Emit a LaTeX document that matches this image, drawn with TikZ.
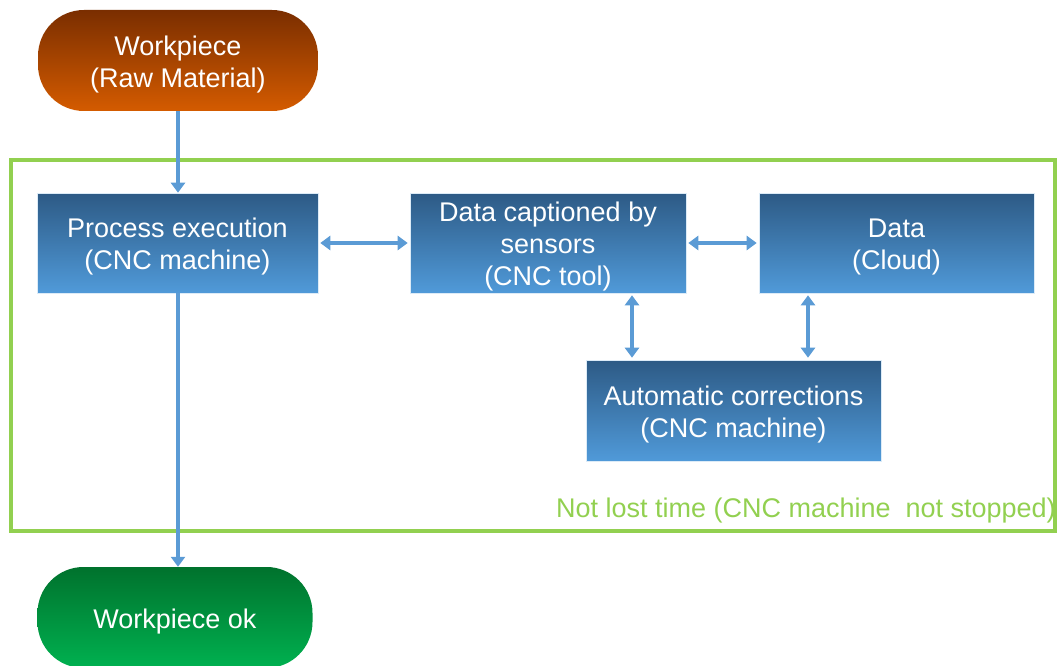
\documentclass[tikz,border=0pt]{standalone}
\usepackage{fontspec}
\setmainfont{Liberation Sans}
\usetikzlibrary{arrows.meta}

\definecolor{boxtop}{HTML}{2D5A85}
\definecolor{boxbot}{HTML}{509AD9}
\definecolor{rawtop}{HTML}{7A2E00}
\definecolor{rawbot}{HTML}{D45B00}
\definecolor{oktop}{HTML}{00722D}
\definecolor{okbot}{HTML}{00B150}
\definecolor{framegreen}{HTML}{92D050}
\definecolor{linkblue}{HTML}{5B9BD5}

% taller first line so the text block sits a little lower in its box
\newcommand\firststrut{\rule{0pt}{27pt}}

\begin{document}
\begin{tikzpicture}[x=1pt,y=-1pt,
  every node/.style={font=\fontsize{27}{32}\selectfont, text=white, align=center, inner sep=0pt},
  stepbox/.style={rectangle, top color=boxtop, bottom color=boxbot, draw=white!80!boxbot, line width=0.6pt},
  terminal/.style={rectangle, rounded corners=46pt, minimum height=101pt},
  flow/.style={draw=linkblue, line width=3.5pt, -{Triangle[length=10pt,width=14pt]}},
  twoway/.style={draw=linkblue, line width=3.5pt, {Triangle[length=10pt,width=14pt]}-{Triangle[length=10pt,width=14pt]}, shorten <=2pt, shorten >=2pt},
]
\useasboundingbox (0,0) rectangle (1057,666);
\clip (0,0) rectangle (1057,666);

% frame around the stages that run without stopping the machine
\draw[framegreen, line width=3.5pt] (11,160) rectangle (1055,531);
\node[text=framegreen, anchor=base east] (note) at (1056,517) {Not lost time (CNC machine\ \ not stopped)};

% terminals
\node[terminal, top color=rawtop, bottom color=rawbot, minimum width=280pt] (raw) at (178,60.5) {\firststrut Workpiece\\(Raw Material)};
\node[terminal, top color=oktop, bottom color=okbot, minimum width=275pt] (ok) at (175,617.5) {\firststrut Workpiece ok};

% process steps
\node[stepbox, minimum width=281pt, minimum height=100pt] (exec) at (177.5,243) {\firststrut Process execution\\(CNC machine)};
\node[stepbox, minimum width=276pt, minimum height=100pt] (sens) at (548,243) {\firststrut Data captioned by\\sensors\\(CNC tool)};
\node[stepbox, minimum width=275pt, minimum height=100pt] (cloud) at (896.5,243) {\firststrut Data\\(Cloud)};
\node[stepbox, minimum width=295pt, minimum height=101pt] (auto) at (733.5,410.5) {\firststrut Automatic corrections\\(CNC machine)};

% connectors
\draw[flow] (raw.south -| 178,0) -- (exec.north -| 178,0);
\draw[flow] (exec.south -| 178,0) -- (ok.north -| 178,0);
\draw[twoway] (exec.east) -- (sens.west);
\draw[twoway] (sens.east) -- (cloud.west);
\draw[twoway] (sens.south -| 632,0) -- (auto.north -| 632,0);
\draw[twoway] (cloud.south -| 808,0) -- (auto.north -| 808,0);
\end{tikzpicture}
\end{document}
